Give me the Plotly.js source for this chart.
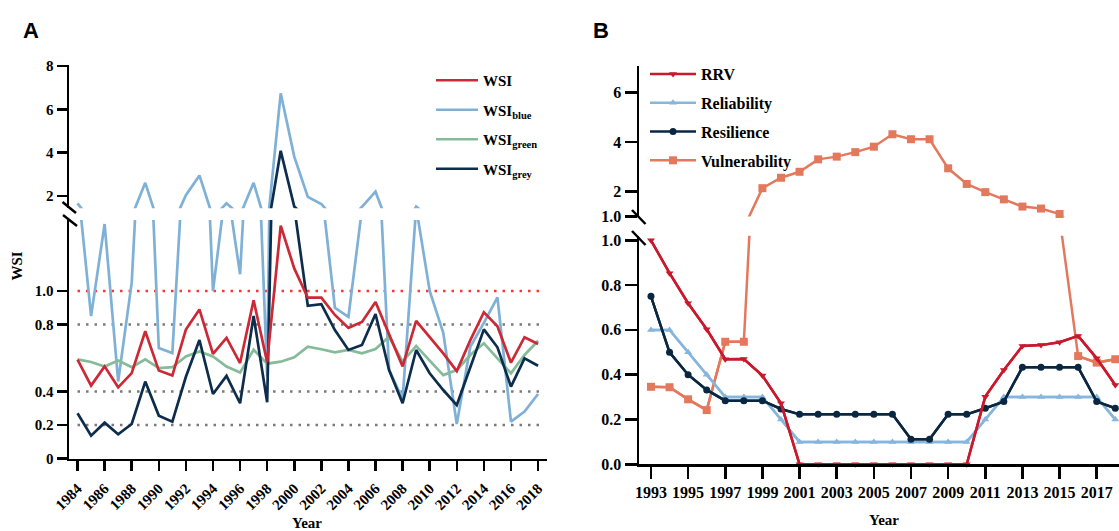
<!DOCTYPE html>
<html><head><meta charset="utf-8">
<script src="https://cdn.plot.ly/plotly-3.0.1.min.js"></script>
<style>html,body{margin:0;padding:0;background:#fff;}#chart{width:1119px;height:531px;}</style>
</head><body><div id="chart"></div>
<script>
// ---------- Panel A data ----------
const yearsA = [1984,1985,1986,1987,1988,1989,1990,1991,1992,1993,1994,1995,1996,1997,1998,1999,2000,2001,2002,2003,2004,2005,2006,2007,2008,2009,2010,2011,2012,2013,2014,2015,2016,2017,2018];
const wsi      = [0.59,0.435,0.55,0.425,0.51,0.76,0.525,0.495,0.77,0.89,0.625,0.72,0.57,0.945,0.575,1.39,1.135,0.96,0.96,0.857,0.78,0.815,0.935,0.745,0.55,0.822,0.727,0.628,0.522,0.707,0.873,0.79,0.572,0.724,0.684];
const wsiBlue  = [1.65,0.85,1.40,0.46,1.05,2.6,0.66,0.63,2.03,2.94,1.0,1.65,1.1,2.6,0.49,6.74,3.81,1.95,1.62,0.9,0.845,1.49,2.19,0.53,0.355,1.5,1.0,0.75,0.206,0.667,0.81,0.962,0.22,0.28,0.385];
const wsiGreen = [0.592,0.576,0.549,0.585,0.545,0.592,0.54,0.545,0.609,0.639,0.609,0.549,0.513,0.649,0.566,0.578,0.604,0.668,0.652,0.634,0.648,0.628,0.654,0.727,0.578,0.672,0.584,0.498,0.528,0.618,0.688,0.598,0.509,0.618,0.703];
const wsiGrey  = [0.27,0.136,0.214,0.144,0.206,0.459,0.256,0.22,0.488,0.707,0.385,0.493,0.33,0.851,0.336,4.08,1.5,0.912,0.922,0.767,0.648,0.678,0.863,0.528,0.33,0.648,0.509,0.409,0.319,0.548,0.771,0.664,0.429,0.598,0.554];
const tickYearsA = [1984,1986,1988,1990,1992,1994,1996,1998,2000,2002,2004,2006,2008,2010,2012,2014,2016,2018];
const lowTicksA = [0,0.2,0.4,0.8,1.0];
const lowTickTextA = ["0","0.2","0.4","0.8","1.0"];
const upTicksA = [2,4,6,8];
const redRefLine = [1.0];
const greyRefLines = [0.8,0.4,0.2];

// ---------- Panel B data ----------
const yearsB = [1993,1994,1995,1996,1997,1998,1999,2000,2001,2002,2003,2004,2005,2006,2007,2008,2009,2010,2011,2012,2013,2014,2015,2016,2017,2018];
const rrv         = [1.0,0.853,0.719,0.603,0.469,0.47,0.396,0.272,0,0,0,0,0,0,0,0,0,0,0.302,0.421,0.528,0.532,0.545,0.573,0.473,0.354];
const reliability = [0.6,0.6,0.5,0.4,0.3,0.3,0.3,0.2,0.1,0.1,0.1,0.1,0.1,0.1,0.1,0.1,0.1,0.1,0.2,0.3,0.3,0.3,0.3,0.3,0.3,0.2];
const resilience  = [0.75,0.5,0.4,0.332,0.284,0.284,0.284,0.247,0.223,0.223,0.223,0.223,0.223,0.223,0.112,0.112,0.223,0.223,0.25,0.28,0.433,0.433,0.433,0.433,0.28,0.25];
const vulnerability = [0.346,0.344,0.29,0.242,0.547,0.547,2.14,2.56,2.80,3.30,3.41,3.59,3.81,4.31,4.11,4.11,2.94,2.31,1.98,1.69,1.40,1.32,1.10,0.483,0.454,0.469];
const tickYearsB = [1993,1995,1997,1999,2001,2003,2005,2007,2009,2011,2013,2015,2017];
const lowTicksB = [0,0.2,0.4,0.6,0.8,1.0];
const upTicksB = [1,2,4,6];
const upTickTextB = ["1.0","2","4","6"];

// ---------- geometry helpers (pixel -> paper) ----------
const W = 1119, H = 531;
const fx = px => px / W;
const fy = py => (H - py) / H;

const SERIF = '"Liberation Serif","Times New Roman",serif';
const tickFontA = {family: SERIF, size: 15, color: '#000', weight: 'bold'};
const tickFontB = {family: SERIF, size: 16, color: '#000', weight: 'bold'};

// axis-break ranges
const A_LOW = [0, 1.424], A_UP = [1.42, 8.05];
const B_LOW = [0, 1.02],  B_UP = [1.0, 7.05];

// keep a value for the upper segment only if it, or a neighbour, lies above the break
function upperOnly(y, lim) {
  return y.map((v, i) => (v > lim || (i > 0 && y[i-1] > lim) || (i < y.length-1 && y[i+1] > lim)) ? v : null);
}

const traces = [];
// Panel A: lines drawn on both broken-axis segments
function addA(name, y, color, rank) {
  traces.push({x: yearsA, y: y, xaxis: 'x', yaxis: 'y', mode: 'lines', name: name,
    line: {color: color, width: 2.7}, legend: 'legend', legendgroup: name, legendrank: rank, showlegend: true});
  traces.push({x: yearsA, y: upperOnly(y, A_UP[0]), xaxis: 'x', yaxis: 'y2', mode: 'lines', name: name,
    connectgaps: false, line: {color: color, width: 2.7}, legendgroup: name, showlegend: false});
}
addA('WSI<sub>blue</sub>', wsiBlue, '#7fb1d7', 2);
addA('WSI<sub>green</sub>', wsiGreen, '#85bb98', 3);
addA('WSI<sub>grey</sub>', wsiGrey, '#0d2d4d', 4);
addA('WSI', wsi, '#cc2936', 1);

// Panel B: lines on both segments, markers only in each segment's own range
function addB(name, y, color, symbol, size, rank) {
  traces.push({x: yearsB, y: y, xaxis: 'x2', yaxis: 'y3', mode: 'lines', name: name,
    line: {color: color, width: 2.5}, legendgroup: name, showlegend: false});
  traces.push({x: yearsB, y: upperOnly(y, B_LOW[1]), xaxis: 'x2', yaxis: 'y4', mode: 'lines', name: name,
    connectgaps: false, line: {color: color, width: 2.5}, legendgroup: name, showlegend: false});
  traces.push({x: yearsB, y: y.map(v => v <= B_LOW[1] ? v : null), xaxis: 'x2', yaxis: 'y3',
    mode: 'lines+markers', name: name, cliponaxis: false, connectgaps: false,
    line: {color: color, width: 2.5}, marker: {color: color, symbol: symbol, size: size},
    legend: 'legend2', legendgroup: name, legendrank: rank, showlegend: true});
  traces.push({x: yearsB, y: y.map(v => v > B_LOW[1] ? v : null), xaxis: 'x2', yaxis: 'y4',
    mode: 'markers', name: name, cliponaxis: false,
    marker: {color: color, symbol: symbol, size: size}, legendgroup: name, showlegend: false});
}
addB('Vulnerability', vulnerability, '#e3785c', 'square', 8, 4);
addB('Reliability', reliability, '#86b5dd', 'triangle-up', 7, 2);
addB('Resilience', resilience, '#0a2742', 'circle', 7, 3);
addB('RRV', rrv, '#c8192d', 'triangle-down', 7, 1);

const axBase = {showgrid: false, zeroline: false, showline: true, linecolor: '#000', linewidth: 2.5,
  ticks: 'outside', tickcolor: '#000', tickwidth: 2.5, automargin: false, fixedrange: true};

const shapes = [];
// dotted reference lines, panel A
redRefLine.forEach(v => shapes.push({type: 'line', xref: 'x', yref: 'y', x0: 1984, x1: 2018.25, y0: v, y1: v,
  line: {color: '#ff3535', width: 2.5, dash: '2.5px,6px'}, layer: 'below'}));
greyRefLines.forEach(v => shapes.push({type: 'line', xref: 'x', yref: 'y', x0: 1984, x1: 2018.25, y0: v, y1: v,
  line: {color: '#7a7a7a', width: 2.5, dash: '2.5px,6px'}, layer: 'below'}));
// axis break marks
function brk(x0, y0, x1, y1) {
  shapes.push({type: 'line', xref: 'paper', yref: 'paper', x0: fx(x0), y0: fy(y0), x1: fx(x1), y1: fy(y1),
    line: {color: '#000', width: 2.5}});
}
brk(62.5, 202, 76, 213);
brk(63, 215, 77, 226);
brk(632, 210, 645.5, 224);
brk(632, 231, 645.5, 245);

const annFont = {family: SERIF, size: 15, color: '#000', weight: 'bold'};
const annotations = [
  {text: 'A', x: fx(31), y: fy(30), xref: 'paper', yref: 'paper', showarrow: false, xanchor: 'center', yanchor: 'middle',
    font: {family: '"Liberation Sans",Arial,sans-serif', size: 22, color: '#000', weight: 'bold'}},
  {text: 'B', x: fx(601), y: fy(30), xref: 'paper', yref: 'paper', showarrow: false, xanchor: 'center', yanchor: 'middle',
    font: {family: '"Liberation Sans",Arial,sans-serif', size: 22, color: '#000', weight: 'bold'}},
  {text: 'WSI', x: fx(16.5), y: fy(266), xref: 'paper', yref: 'paper', showarrow: false, textangle: -90,
    xanchor: 'center', yanchor: 'middle', font: annFont},
  {text: 'Year', x: fx(307), y: fy(523), xref: 'paper', yref: 'paper', showarrow: false,
    xanchor: 'center', yanchor: 'middle', font: annFont},
  {text: 'Year', x: fx(884), y: fy(520), xref: 'paper', yref: 'paper', showarrow: false,
    xanchor: 'center', yanchor: 'middle', font: annFont}
];

const layout = {
  width: W, height: H, autosize: false,
  margin: {l: 0, r: 0, t: 0, b: 0, pad: 0},
  paper_bgcolor: '#fff', plot_bgcolor: 'rgba(0,0,0,0)',
  font: {family: SERIF, color: '#000'},
  xaxis: Object.assign({}, axBase, {domain: [fx(69), fx(547)], range: [1983.37, 2018.66], anchor: 'y',
    tickvals: tickYearsA, tickangle: -45, ticklen: 10, ticklabelstandoff: 3, tickfont: tickFontA}),
  yaxis: Object.assign({}, axBase, {domain: [fy(458.5), fy(220)], range: A_LOW, anchor: 'x',
    tickvals: lowTicksA, ticktext: lowTickTextA, ticklen: 10, tickfont: tickFontA}),
  yaxis2: Object.assign({}, axBase, {domain: [fy(208.3), fy(65)], range: A_UP, anchor: 'x',
    tickvals: upTicksA, ticklen: 10, tickfont: tickFontA}),
  xaxis2: Object.assign({}, axBase, {domain: [fx(639), 1], range: [1992.355, 2018.2], anchor: 'y3',
    tickvals: tickYearsB, tickangle: 0, ticklen: 12, tickfont: tickFontB}),
  yaxis3: Object.assign({}, axBase, {domain: [fy(464.3), fy(235.8)], range: B_LOW, anchor: 'x2',
    tickvals: lowTicksB, tickformat: '.1f', ticklen: 12, tickfont: tickFontB}),
  yaxis4: Object.assign({}, axBase, {domain: [fy(216.5), fy(66.2)], range: B_UP, anchor: 'x2',
    tickvals: upTicksB, ticktext: upTickTextB, ticklen: 12, tickfont: tickFontB}),
  legend: {x: fx(431), y: fy(64), xanchor: 'left', yanchor: 'top', bgcolor: 'rgba(0,0,0,0)',
    itemwidth: 42, tracegroupgap: 7, font: {family: SERIF, size: 15, color: '#000', weight: 'bold'}},
  legend2: {x: fx(645), y: fy(57), xanchor: 'left', yanchor: 'top', bgcolor: 'rgba(0,0,0,0)',
    itemwidth: 46, tracegroupgap: 5, font: {family: SERIF, size: 16, color: '#000', weight: 'bold'}},
  showlegend: true,
  shapes: shapes,
  annotations: annotations
};

Plotly.newPlot('chart', traces, layout, {displayModeBar: false, staticPlot: true});
</script>
</body></html>
